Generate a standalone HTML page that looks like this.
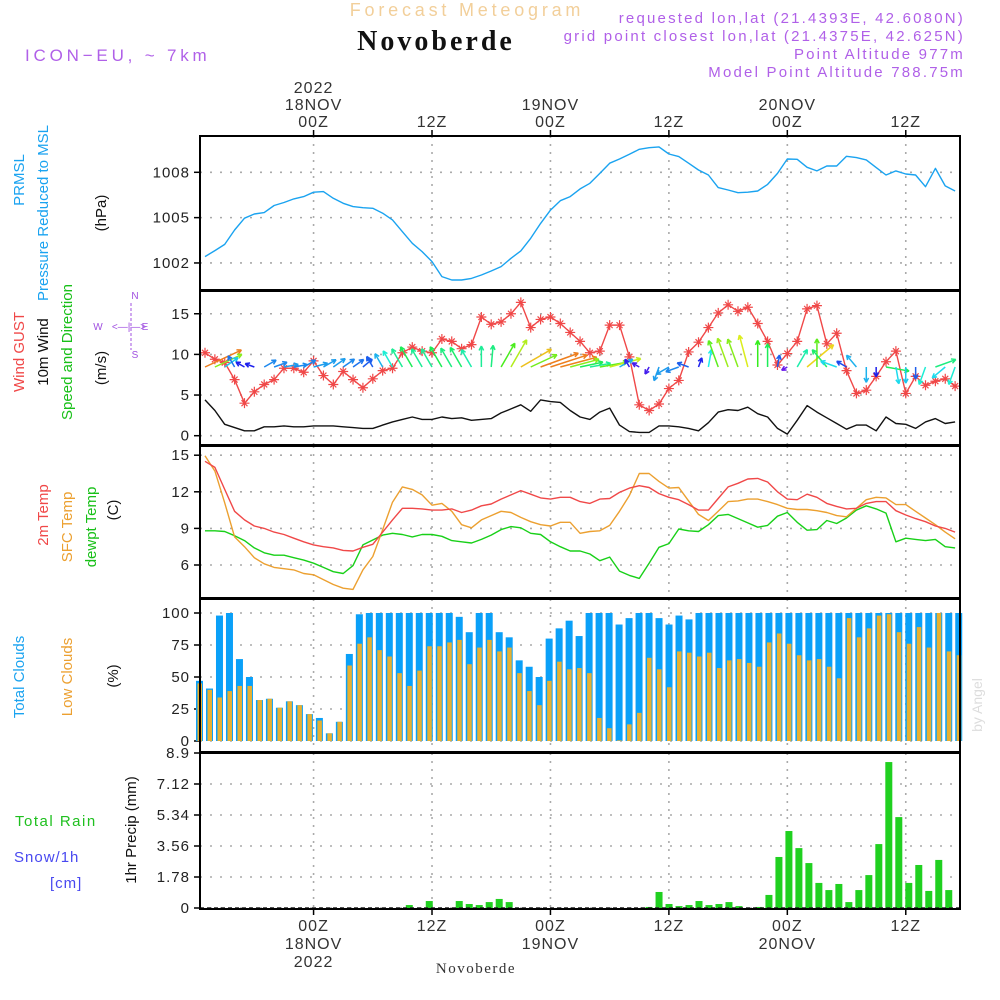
<!DOCTYPE html>
<html><head><meta charset="utf-8"><style>
html,body{margin:0;padding:0;background:#fff;}
svg{display:block;font-family:"Liberation Sans",sans-serif;}
.t{letter-spacing:1px;}
</style></head><body>
<svg id="chart" width="1000" height="1000" viewBox="0 0 1000 1000" xmlns="http://www.w3.org/2000/svg">
<rect x="0" y="0" width="1000" height="1000" fill="#fff"/>
<text x="467" y="16" text-anchor="middle" font-size="18" fill="#f2cf9a" letter-spacing="3.8">Forecast Meteogram</text>
<text x="436" y="50" text-anchor="middle" font-size="28" font-weight="bold" font-family="Liberation Serif, serif" fill="#111" letter-spacing="3">Novoberde</text>
<text x="965" y="23" text-anchor="end" font-size="15" fill="#b060e8" letter-spacing="2.2">requested lon,lat (21.4393E, 42.6080N)</text>
<text x="965" y="41" text-anchor="end" font-size="15" fill="#b060e8" letter-spacing="2.2">grid point closest lon,lat (21.4375E, 42.625N)</text>
<text x="965" y="59" text-anchor="end" font-size="15" fill="#b060e8" letter-spacing="2.2">Point Altitude 977m</text>
<text x="965" y="77" text-anchor="end" font-size="15" fill="#b060e8" letter-spacing="2.2">Model Point Altitude 788.75m</text>
<text x="25" y="61" font-size="17" fill="#b060e8" letter-spacing="3.8">ICON−EU, ~ 7km</text>
<g id="g"></g>
</svg>
<script>
const categories = ["00Z","12Z","00Z","12Z","00Z","12Z"];
const dayLabels = ["18NOV","19NOV","20NOV"];
const pressure = [1002.42,1002.82,1003.23,1004.18,1004.96,1005.24,1005.33,1005.8,1006.0,1006.24,1006.39,1006.68,1006.72,1006.28,1005.95,1005.73,1005.66,1005.62,1005.29,1004.85,1004.07,1003.3,1002.75,1002.09,1001.1,1000.87,1000.87,1000.98,1001.2,1001.47,1001.76,1002.31,1002.8,1003.63,1004.62,1005.5,1006.12,1006.39,1006.9,1007.27,1007.93,1008.6,1008.88,1009.19,1009.52,1009.63,1009.68,1009.21,1009.04,1008.6,1008.15,1007.82,1006.99,1006.83,1006.65,1006.68,1006.76,1007.2,1007.93,1008.88,1008.86,1008.33,1008.09,1008.42,1008.42,1009.06,1008.97,1008.82,1008.31,1007.82,1008.09,1007.89,1007.82,1007.05,1008.26,1007.1,1006.76];
const gust = [10.2,9.4,9.0,6.9,4.0,5.4,6.3,6.9,8.3,8.3,7.8,9.2,7.4,6.3,7.9,6.9,5.9,7.0,8.0,8.3,10.2,10.9,10.4,10.2,11.9,11.6,10.7,11.2,14.6,13.7,14.0,15.0,16.4,13.3,14.3,14.6,13.8,12.7,11.6,10.2,10.4,13.6,13.6,9.7,3.8,3.1,3.9,5.8,6.8,10.3,11.5,13.3,15.1,16.1,15.3,15.8,13.8,11.6,8.7,10.1,11.6,15.6,16.0,11.3,12.6,8.0,5.2,5.6,7.3,9.1,10.4,5.2,7.3,6.2,6.7,7.0,6.1];
const wind = [4.4,3.1,1.4,1.0,0.6,0.6,1.1,1.1,1.2,1.1,1.1,1.2,1.2,1.2,1.1,1.0,0.9,0.9,1.3,1.7,2.0,2.3,2.0,2.0,2.3,2.1,2.2,1.9,2.0,2.1,2.8,3.3,3.8,3.0,4.4,4.2,4.1,3.1,2.3,2.0,2.9,3.4,1.3,0.5,0.4,0.4,1.2,1.2,1.1,0.9,0.6,1.6,2.9,3.2,3.1,3.5,2.7,2.3,0.9,0.2,1.9,3.7,2.9,2.2,1.5,0.8,1.3,1.3,0.6,2.3,1.5,1.4,0.9,1.7,2.1,1.5,1.7];
const windDir = [65,65,55,330,300,290,60,70,80,80,60,75,60,55,55,55,50,330,330,330,330,330,330,330,330,330,330,330,0,5,30,30,60,65,70,72,75,75,78,80,80,75,60,330,300,210,200,240,250,290,20,10,340,340,340,345,0,0,10,240,30,50,0,320,290,300,320,180,180,100,170,180,180,200,70,230,200];
const t2m = [14.5,14.0,12.2,10.4,9.7,9.2,9.0,8.7,8.5,8.2,7.9,7.65,7.5,7.4,7.2,7.15,7.45,7.7,8.7,9.7,10.65,10.65,10.6,10.5,10.5,10.6,10.3,10.5,10.85,11.0,11.4,11.75,12.1,11.8,11.5,11.4,11.55,11.55,11.2,11.05,11.4,11.45,11.95,12.3,12.5,12.35,11.85,11.55,11.35,10.95,10.5,10.5,11.45,12.4,12.7,13.05,13.1,12.8,12.0,11.4,11.35,11.8,11.55,11.05,10.8,10.6,10.65,11.05,11.2,11.2,10.45,10.1,9.8,9.55,9.2,9.0,8.7];
const tsfc = [14.95,13.7,11.1,8.3,7.5,6.6,6.1,5.8,5.7,5.6,5.3,5.2,4.8,4.4,4.1,4.0,5.6,6.7,8.9,11.15,12.4,12.2,11.75,10.9,11.05,10.4,9.3,9.05,9.7,10.05,10.4,10.3,9.9,9.55,9.3,9.2,9.5,9.5,8.6,8.75,8.8,9.25,10.4,11.7,13.5,13.5,12.85,12.3,12.35,11.25,10.15,9.65,10.4,11.2,11.25,11.4,11.4,11.2,10.95,10.65,10.55,10.55,10.45,10.3,10.05,9.95,10.65,11.35,11.55,11.5,10.95,10.95,10.4,9.85,9.3,8.7,8.15];
const dewpt = [8.8,8.8,8.75,8.4,8.0,7.4,7.0,6.8,6.8,6.6,6.4,6.15,5.8,5.45,5.3,5.95,7.65,8.05,8.45,8.6,8.5,8.3,8.5,8.5,8.35,8.0,7.9,7.8,8.1,8.45,8.9,9.15,9.05,8.6,8.5,7.9,7.5,7.15,7.15,6.9,6.35,6.65,5.5,5.15,4.9,6.15,7.45,7.75,8.95,8.8,8.75,9.3,10.05,10.15,9.8,9.45,9.1,9.25,10.0,10.3,9.5,8.85,8.9,9.65,9.4,9.85,10.5,10.85,10.6,10.25,7.9,8.2,8.1,8.0,8.1,7.5,7.4];
const totalClouds = [47,41,98,100,64,50,32,33,26,31,28,21,18,6,15,68,99,100,100,100,100,100,100,100,100,100,97,85,100,100,85,81,63,58,50,80,88,94,82,100,100,100,91,96,100,100,96,91,98,95,100,100,100,100,100,100,100,100,100,100,100,100,100,100,100,100,100,100,100,100,100,100,100,100,100,100,100];
const lowClouds = [45,40,34,39,43,43,32,33,26,31,28,21,16,6,15,59,76,81,71,66,53,43,55,74,74,77,79,60,73,79,70,73,53,39,28,47,62,56,57,53,18,10,0.5,13,22,65,56,42,70,69,66,69,57,63,64,61,58,77,84,76,67,63,64,58,49,96,81,88,98,99,85,76,89,73,100,70,67];
const precip = [0,0,0,0,0,0,0,0,0,0,0,0,0,0,0,0,0,0,0,0,0,0.17,0,0.4,0,0,0.4,0.23,0.17,0.34,0.52,0.34,0,0,0,0,0,0,0,0,0,0,0,0,0,0.06,0.92,0.23,0.11,0.17,0.4,0.17,0.23,0.34,0.11,0,0.06,0.75,2.93,4.42,3.44,2.58,1.44,1.03,1.38,0.34,1.03,1.89,3.67,8.38,5.22,1.44,2.47,0.98,2.76,1.03,0];
const pTicks = [1002,1005,1008];
const wTicks = [0,5,10,15];
const tTicks = [6,9,12,15];
const cTicks = [0,25,50,75,100];
const rTicks = ["0","1.78","3.56","5.34","7.12","8.9"];

const NS="http://www.w3.org/2000/svg";
const G=document.getElementById('g');
function el(tag,attrs,parent){const e=document.createElementNS(NS,tag);for(const k in attrs)e.setAttribute(k,attrs[k]);(parent||G).appendChild(e);return e;}
function txt(x,y,s,attrs){const e=el('text',Object.assign({x:x,y:y},attrs||{}));e.textContent=s;return e;}
const X0=200,X1=960;
function xT(k){return 205+9.87*k;}
function xB(i){return 199.5+9.99*i;}
const P={p:[136,290],w:[291,445],t:[446,598],c:[599,752],r:[753,909]};
function yP(v){return 172.3+(1008-v)*15.11;}
function yW(v){return 435.7-v*8.13;}
function yTm(v){return 565-(v-6)*12.2;}
function yC(v){return 741-v*1.28;}
function yR(v){return 908-v*(155/8.9);}
const gridX=[11,23,35,47,59,71].map(xT);

function gridH(y){const l=el('line',{x1:X0,x2:X1,y1:y,y2:y,stroke:'#aaa','stroke-width':1.6,'stroke-dasharray':'2 8'});

}
function panelGrid(key,ys){
 ys.forEach(gridH);
 gridX.forEach(x=>{const l=el('line',{x1:x,x2:x,y1:P[key][0],y2:P[key][1],stroke:'#aaa','stroke-width':1.6,'stroke-dasharray':'2 6'});
 
 });
}
function yLabels(vals,fy,lbls){vals.forEach((v,i)=>{const y=fy(v);
 const tk=el('line',{x1:194,x2:200,y1:y,y2:y,stroke:'#000','stroke-width':1.5});
 
 
 const t=txt(190,y+5,lbls?lbls[i]:String(v),{'text-anchor':'end','font-size':15,fill:'#222',class:'t'});
 
 });}
function line(arr,fx,fy,color,name,w){const d=arr.map((v,i)=>(i?'L':'M')+fx(i).toFixed(1)+','+fy(v).toFixed(1)).join('');
 const p=el('path',{d:d,fill:'none',stroke:color,'stroke-width':w||1.4,'stroke-linejoin':'round'});
 
 }

panelGrid('p',pTicks.map(yP));yLabels(pTicks,yP);
line(pressure,xT,yP,'#1aa3f0','pressure-line');
panelGrid('w',wTicks.map(yW));yLabels(wTicks,yW);
line(wind,xT,yW,'#111','wind-speed-line');
line(gust,xT,yW,'#f04848','wind-gust-line');
gust.forEach((v,i)=>{const x=xT(i),y=yW(v);
 const m=el('path',{d:`M${x-5},${y}H${x+5}M${x},${y-5}V${y+5}M${x-3},${y-3}L${x+3},${y+3}M${x-3},${y+3}L${x+3},${y-3}`,stroke:'#f04848','stroke-width':1.2});
 
 });
windDir.forEach((d,i)=>{const s=wind[i];const len=5+8*s;const a=d*Math.PI/180;
 const x0=xT(i),y0=367;const x1=x0+len*Math.sin(a),y1=y0-len*Math.cos(a);
 const hue=Math.max(28,275-s*60);const c=`hsl(${hue},85%,52%)`;
 const h1=a+Math.PI*0.85,h2=a-Math.PI*0.85;
 const ar=el('path',{d:`M${x0},${y0}L${x1},${y1}M${x1},${y1}L${x1+5*Math.sin(h1)},${y1-5*Math.cos(h1)}M${x1},${y1}L${x1+5*Math.sin(h2)},${y1-5*Math.cos(h2)}`,stroke:c,'stroke-width':1.5,fill:'none'});
 
 });
panelGrid('t',tTicks.map(yTm));yLabels(tTicks,yTm);
line(dewpt,xT,yTm,'#18d018','dewpoint-line');
line(tsfc,xT,yTm,'#eca030','surface-temp-line');
line(t2m,xT,yTm,'#f04848','temp-2m-line');
panelGrid('c',cTicks.map(yC));yLabels(cTicks,yC);
totalClouds.forEach((v,i)=>{const x=xB(i);
 const b=el('rect',{x:x-3.5,y:yC(v),width:7,height:741-yC(v),fill:'#0aa0f8'});
 
 
 const lv=lowClouds[i];
 const o=el('rect',{x:x-2,y:yC(lv),width:4.5,height:741-yC(lv),fill:'#e8b030'});
 
 });
panelGrid('r',rTicks.map(Number).map(yR));yLabels(rTicks.map(Number),yR,rTicks);
precip.forEach((v,i)=>{if(v<=0)return;const x=xB(i);
 const b=el('rect',{x:x-3.5,y:yR(v),width:7,height:908-yR(v),fill:'#20d020'});
 
 });
const base=el('line',{x1:X0,x2:X1,y1:908,y2:908,stroke:'#222','stroke-width':1.5,'stroke-dasharray':'4 3'});


Object.keys(P).forEach(k=>{const r=el('rect',{x:X0,y:P[k][0],width:X1-X0,height:P[k][1]-P[k][0],fill:'none',stroke:'#000','stroke-width':2});
 
 });
gridX.forEach((x,i)=>{
 const t1=el('line',{x1:x,x2:x,y1:130,y2:136,stroke:'#000','stroke-width':1.5});
 
 
 const t2=el('line',{x1:x,x2:x,y1:909,y2:915,stroke:'#000','stroke-width':1.5});
 
 
 const a=txt(x,127,categories[i],{'text-anchor':'middle','font-size':16,fill:'#333',class:'t'});
 
 
 const b=txt(x,931,categories[i],{'text-anchor':'middle','font-size':16,fill:'#333',class:'t'});
 
 
 if(i%2===0){const d=dayLabels[i/2];
  const c=txt(x,110,d,{'text-anchor':'middle','font-size':16,fill:'#333',class:'t'});
  
  
  const e=txt(x,949,d,{'text-anchor':'middle','font-size':16,fill:'#333',class:'t'});
  
  }
});
const y1=txt(gridX[0],93,'2022',{'text-anchor':'middle','font-size':16,fill:'#333',class:'t'});


const y2=txt(gridX[0],967,'2022',{'text-anchor':'middle','font-size':16,fill:'#333',class:'t'});


const nb=txt(476,973,'Novoberde',{'text-anchor':'middle','font-size':15,fill:'#333','font-family':'Liberation Serif, serif','letter-spacing':'1.5'});


function vlab(x,y,s,color,name,size){const t=txt(0,0,s,{'text-anchor':'middle','font-size':size||15,fill:color,transform:`translate(${x},${y}) rotate(-90)`});
 
 }
vlab(24,180,'PRMSL','#1aa3f0','prmsl-label');
vlab(48,213,'Pressure Reduced to MSL','#1aa3f0','pressure-axis-title');
vlab(106,213,'(hPa)','#111','pressure-unit');
vlab(24,352,'Wind GUST','#f04848','gust-axis-title');
vlab(48,352,'10m Wind','#111','wind-axis-title');
vlab(72,352,'Speed and Direction','#18c018','wind-direction-title');
vlab(106,368,'(m/s)','#111','wind-unit');
vlab(48,515,'2m Temp','#f04848','temp-2m-title');
vlab(72,527,'SFC Temp','#eca030','sfc-temp-title');
vlab(96,527,'dewpt Temp','#18c018','dewpoint-title');
vlab(118,510,'(C)','#111','temp-unit');
vlab(24,677,'Total Clouds','#1aa3f0','total-clouds-title');
vlab(72,677,'Low Clouds','#eca030','low-clouds-title');
vlab(118,676,'(%)','#111','clouds-unit');
vlab(136,830,'1hr Precip (mm)','#111','precip-axis-title');
vlab(982,705,'by Angel','#ddd','watermark',14);
const tr=txt(15,826,'Total  Rain',{'font-size':15,fill:'#20c020','letter-spacing':'1.5'});


const sn=txt(14,862,'Snow/1h',{'font-size':15,fill:'#4848f0',class:'t'});


const cm=txt(50,888,'[cm]',{'font-size':15,fill:'#4848f0',class:'t'});


const cg=el('g',{fill:'#a050e0','font-size':10});


[['N',135,299],['S',135,358],['W',98,330],['E',145,330]].forEach(a=>{const t=el('text',{x:a[1],y:a[2],'text-anchor':'middle',fill:'#a050e0','font-size':10},cg);t.textContent=a[0];});
const ct=el('text',{x:129,y:330,'text-anchor':'middle',fill:'#a050e0','font-size':10},cg);ct.textContent='<—|—>';
el('path',{d:'M131,303V350',stroke:'#a050e0','stroke-width':1,'stroke-dasharray':'3 2'},cg);
</script>
</body></html>
